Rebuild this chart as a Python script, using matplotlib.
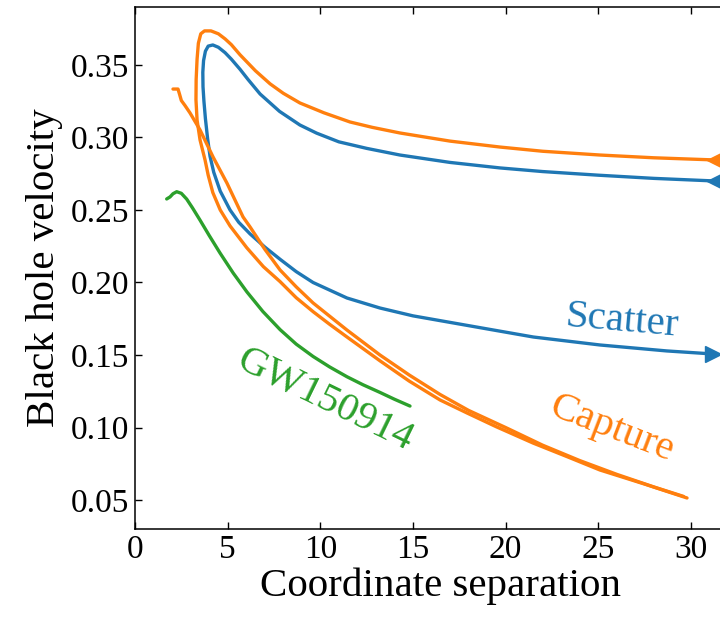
import matplotlib
matplotlib.use('Agg')
import matplotlib.pyplot as plt

plt.rcParams['font.family'] = ['Liberation Serif', 'DejaVu Serif']

# Scatter (blue): incoming from the right, loop, outgoing to the right
scatter_x = [31.3, 28.0, 25.0, 22.0, 19.7, 17.0, 14.3, 12.5, 11.0, 9.8, 8.9, 7.8, 6.75, 6.1,
             5.67, 5.2, 4.86, 4.5, 4.2, 3.95, 3.8, 3.70, 3.66, 3.67, 3.72, 3.80, 3.92, 4.05,
             4.25, 4.6, 5.13, 5.6, 6.21, 7.0, 7.83, 8.7, 9.61, 11.44, 13.22, 15.0, 17.0, 19.0,
             21.5, 25.1, 28.7, 31.2]
scatter_y = [0.2700, 0.2718, 0.2740, 0.2765, 0.2790, 0.2828, 0.2879, 0.2925, 0.2970, 0.3030,
             0.3086, 0.3180, 0.3300, 0.3400, 0.3470, 0.3540, 0.3585, 0.3622, 0.3638, 0.3630,
             0.3595, 0.3530, 0.3450, 0.3350, 0.3250, 0.3130, 0.2990, 0.2870, 0.2760, 0.2630,
             0.2500, 0.2415, 0.2335, 0.2245, 0.2160, 0.2075, 0.2000, 0.1893, 0.1824, 0.1770,
             0.1725, 0.1680, 0.1624, 0.1569, 0.1528, 0.1507]

# Capture (orange): incoming from the right, loop, then inspiral
capture_x = [31.3, 28.0, 25.1, 22.0, 19.7, 17.0, 14.3, 12.8, 11.6, 10.2, 8.9, 8.0, 7.29, 6.5,
             5.67, 5.2, 4.86, 4.5, 4.1, 3.75, 3.55, 3.42, 3.35, 3.30, 3.29, 3.35, 3.51, 3.78,
             3.95, 4.2, 4.6, 5.13, 6.03, 6.93, 7.83, 8.7, 9.62, 10.5, 11.42, 13.22, 14.8,
             16.46, 17.92, 19.5, 21.48, 23.3, 25.09, 27.5, 29.79]
capture_y = [0.2845, 0.2860, 0.2879, 0.2905, 0.2934, 0.2975, 0.3031, 0.3070, 0.3107, 0.3170,
             0.3238, 0.3305, 0.3370, 0.3460, 0.3570, 0.3640, 0.3680, 0.3715, 0.3735, 0.3735,
             0.3715, 0.3650, 0.3540, 0.3400, 0.3260, 0.3120, 0.2983, 0.2845, 0.2740, 0.2620,
             0.2500, 0.2390, 0.2240, 0.2109, 0.2006, 0.1895, 0.1798, 0.1712, 0.1626, 0.1460,
             0.1320, 0.1190, 0.1100, 0.1005, 0.0893, 0.0800, 0.0707, 0.0610, 0.0514]

# second capture segment (orange) starting near x=2
capture2_x = [2.05, 2.32, 2.40, 2.50, 2.70, 2.97, 3.51, 4.21, 4.96, 5.83, 6.21, 7.0, 7.83, 8.7,
              9.61, 11.44, 13.22, 14.8, 16.46, 18.0, 20.0, 22.0, 24.0, 26.0, 28.0, 29.6]
capture2_y = [0.3334, 0.3334, 0.3300, 0.3255, 0.3220, 0.3169, 0.3052, 0.2866, 0.2686, 0.2452,
              0.2383, 0.2230, 0.2086, 0.1970, 0.1859, 0.1672, 0.1500, 0.1362, 0.1228, 0.1118,
              0.1000, 0.0878, 0.0772, 0.0677, 0.0590, 0.0525]

# GW150914 (green)
gw_x = [1.71, 1.89, 2.05, 2.25, 2.50, 2.79, 3.1, 3.51, 4.0, 4.59, 5.3, 6.04, 6.9, 7.83, 8.7,
        9.61, 10.5, 11.44, 12.3, 13.22, 14.0, 14.84]
gw_y = [0.2576, 0.2590, 0.2612, 0.2626, 0.2615, 0.2575, 0.2515, 0.2430, 0.2325, 0.2203, 0.2065,
        0.1935, 0.1800, 0.1675, 0.1575, 0.1490, 0.1418, 0.1350, 0.1295, 0.1242, 0.1195, 0.1148]

blue, orange, green = '#1f77b4', '#ff7f0e', '#2ca02c'
lw = 2.4

fig = plt.figure(figsize=(7.2, 6.17), dpi=100)
ax = fig.add_axes([0.1875, 0.1426, 0.8493, 0.8461])

ax.plot(scatter_x, scatter_y, color=blue, lw=lw, solid_capstyle='round', solid_joinstyle='round')
ax.plot(capture_x, capture_y, color=orange, lw=lw, solid_capstyle='round', solid_joinstyle='round')
ax.plot(capture2_x, capture2_y, color=orange, lw=lw, solid_capstyle='round', solid_joinstyle='round')
ax.plot(gw_x, gw_y, color=green, lw=lw, solid_capstyle='round', solid_joinstyle='round')

# direction arrows
ax.plot(scatter_x[0], scatter_y[0], marker='<', color=blue, ms=12, clip_on=False)
ax.plot(scatter_x[-1], scatter_y[-1], marker='>', color=blue, ms=12, clip_on=False)
ax.plot(capture_x[0], capture_y[0], marker='<', color=orange, ms=12, clip_on=False)

ax.text(26.28, 0.1728, 'Scatter', color=blue, fontsize=29.5, rotation=-5,
        ha='center', va='center', rotation_mode='anchor')
ax.text(25.74, 0.0990, 'Capture', color=orange, fontsize=29.5, rotation=-21,
        ha='center', va='center', rotation_mode='anchor')
ax.text(10.25, 0.1190, 'GW150914', color=green, fontsize=29.5, rotation=-26,
        ha='center', va='center', rotation_mode='anchor')

ax.set_xlim(0, 33)
ax.set_ylim(0.03, 0.39)
ax.set_xticks([0, 5, 10, 15, 20, 25, 30])
ax.set_yticks([0.05, 0.10, 0.15, 0.20, 0.25, 0.30, 0.35])
ax.set_yticklabels(['0.05', '0.10', '0.15', '0.20', '0.25', '0.30', '0.35'])
ax.tick_params(direction='in', top=True, right=True, length=5, width=1,
               labelsize=24, pad=4)
for s in ax.spines.values():
    s.set_linewidth(1.1)

ax.set_xlabel('Coordinate separation', fontsize=29.5, labelpad=2)
ax.set_ylabel('Black hole velocity', fontsize=29.5, labelpad=6)

fig.savefig('out.png', dpi=100)
